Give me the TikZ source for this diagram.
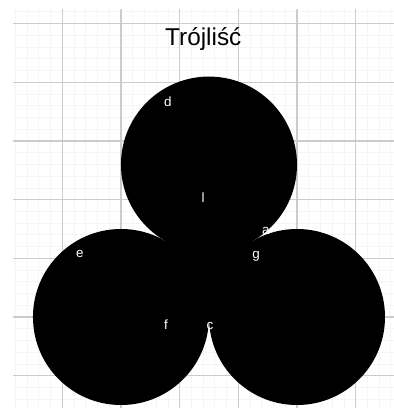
\documentclass[tikz,border=0pt]{standalone}
\usepackage{fontspec}
\setmainfont{Liberation Sans}
\tikzset{
    pointlabel/.style={text=white, inner sep=0pt, font=\fontsize{6.5}{7}\selectfont},
}
\begin{document}
\begin{tikzpicture}
        \useasboundingbox (-2.062,-1.551) rectangle (4.653,5.403);
        \draw[help lines, line width=0.4pt, color=gray!8] (-1.84,-1.551) grid[step=0.2] (4.653,5.25);
        \draw[help lines, line width=0.6pt, color=gray!40] (-1.84,-1.551) grid (4.653,5.25);
        \node[font=\fontsize{11.8}{14}\selectfont, anchor=base] (title) at (1.403,4.624) {Trójliść};
        \coordinate (L) at (0,0);
        \coordinate (R) at (3,0);
        \coordinate (T) at (1.5,2.598);
        \fill (L) circle (1.5);
        \fill (R) circle (1.5);
        \fill (T) circle (1.5);
        \fill (L) -- (R) -- (T) -- cycle;
        \node[pointlabel] (d) at (0.801,3.665) {d};
        \node[pointlabel] (l) at (1.398,2.028) {l};
        \node[pointlabel] (a) at (2.471,1.466) {a};
        \node[pointlabel] (g) at (2.301,1.040) {g};
        \node[pointlabel] (e) at (-0.699,1.074) {e};
        \node[pointlabel] (f) at (0.767,-0.136) {f};
        \node[pointlabel] (c) at (1.517,-0.153) {c};
    \end{tikzpicture}
\end{document}
